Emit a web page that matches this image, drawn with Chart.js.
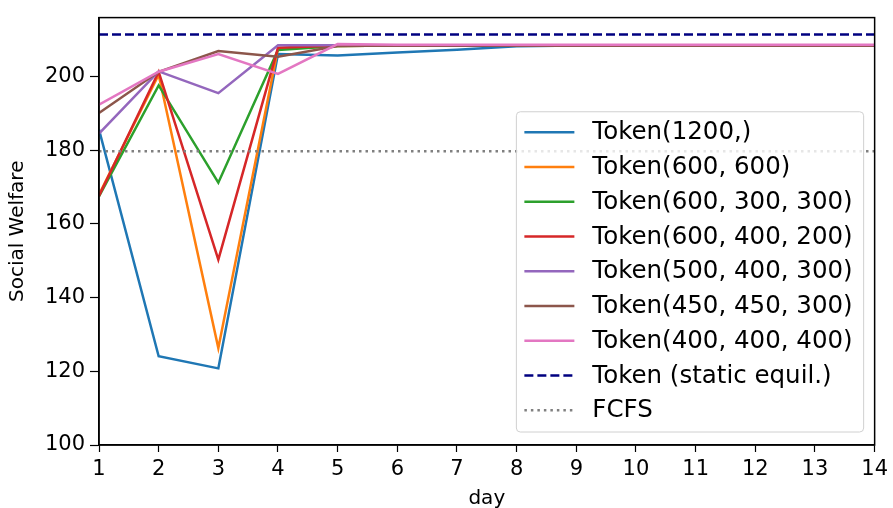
<!DOCTYPE HTML>
<html lang="en">
<head>
<meta charset="UTF-8">
<title>Social Welfare by day</title>
<script src="https://cdn.jsdelivr.net/npm/chart.js@4/dist/chart.umd.min.js"></script>
<style>
  html, body { margin: 0; padding: 0; background: #fff; }
  #wrap { width: 893px; height: 508px; }
</style>
</head>
<body>
<div id="wrap"><canvas id="canvas" width="893" height="508"></canvas></div>

<script>
// data
var days = [1, 2, 3, 4, 5, 6, 7, 8, 9, 10, 11, 12, 13, 14];

var token1200        = [185.6, 124.1, 120.8, 206.1, 205.7, 206.5, 207.3, 208.2, 208.4, 208.4, 208.4, 208.4, 208.4, 208.4];
var token600_600     = [168.0, 200.5, 126.3, 207.6, 208.3, 208.4, 208.4, 208.4, 208.4, 208.4, 208.4, 208.4, 208.4, 208.4];
var token600_300_300 = [167.5, 197.6, 171.2, 207.2, 208.3, 208.4, 208.4, 208.4, 208.4, 208.4, 208.4, 208.4, 208.4, 208.4];
var token600_400_200 = [167.6, 201.3, 150.3, 207.8, 208.4, 208.4, 208.4, 208.4, 208.4, 208.4, 208.4, 208.4, 208.4, 208.4];
var token500_400_300 = [184.5, 201.4, 195.5, 208.5, 208.5, 208.5, 208.5, 208.5, 208.5, 208.5, 208.5, 208.5, 208.5, 208.5];
var token450_450_300 = [190.1, 201.3, 206.9, 205.4, 208.3, 208.4, 208.4, 208.4, 208.4, 208.4, 208.4, 208.4, 208.4, 208.4];
var token400_400_400 = [192.4, 201.3, 206.1, 200.7, 208.8, 208.6, 208.6, 208.6, 208.6, 208.6, 208.6, 208.6, 208.6, 208.6];

var staticEquil = 211.4;  // Token (static equil.)
var fcfs = 179.7;         // FCFS

var seriesLabels = [
  'Token(1200,)', 'Token(600, 600)', 'Token(600, 300, 300)', 'Token(600, 400, 200)',
  'Token(500, 400, 300)', 'Token(450, 450, 300)', 'Token(400, 400, 400)'
];
var seriesValues = [token1200, token600_600, token600_300_300, token600_400_200,
                    token500_400_300, token450_450_300, token400_400_400];
var seriesColors = ['#1f77b4', '#ff7f0e', '#2ca02c', '#d62728', '#9467bd', '#8c564b', '#e377c2'];

var yTicks = [100, 120, 140, 160, 180, 200];
var xTicks = days;

var FONT = '"DejaVu Sans", sans-serif';

function toPoints(vals) {
  return vals.map(function(v, i) { return {x: days[i], y: v}; });
}

var datasets = seriesValues.map(function(vals, i) {
  return {
    label: seriesLabels[i],
    data: toPoints(vals),
    borderColor: seriesColors[i],
    backgroundColor: seriesColors[i],
    borderWidth: 2.5,
    pointRadius: 0,
    tension: 0,
    order: -i   // later series on top, like the original
  };
});

datasets.push({
  label: 'Token (static equil.)',
  data: [{x: days[0], y: staticEquil}, {x: days[days.length - 1], y: staticEquil}],
  borderColor: '#000080',
  borderWidth: 2.5,
  borderDash: [9, 4],
  pointRadius: 0,
  order: -10
});
datasets.push({
  label: 'FCFS',
  data: [{x: days[0], y: fcfs}, {x: days[days.length - 1], y: fcfs}],
  borderColor: '#808080',
  borderWidth: 2.5,
  borderDash: [2.5, 4],
  pointRadius: 0,
  order: -11
});

// frame round the plot area
var frame = {
  id: 'frame',
  afterDraw: function(chart) {
    var ctx = chart.ctx, a = chart.chartArea;
    ctx.save();
    ctx.strokeStyle = '#000';
    ctx.lineWidth = 1.5;
    ctx.strokeRect(a.left, a.top, a.right - a.left, a.bottom - a.top);
    ctx.restore();
  }
};

// legend box inside the plot (lower right)
var legendBox = {
  id: 'legendBox',
  afterDraw: function(chart) {
    var ctx = chart.ctx, a = chart.chartArea;
    var ds = chart.data.datasets;
    var rowH = 34.75, padTop = 3, padBottom = 4.5;
    ctx.save();
    ctx.font = '24.5px ' + FONT;
    var maxW = 0;
    ds.forEach(function(d) { maxW = Math.max(maxW, ctx.measureText(d.label).width); });
    var w = 76 + maxW + 11;
    var h = padTop + rowH * ds.length + padBottom;
    var right = a.right - 11, bottom = a.bottom - 13;
    var left = right - w, top = bottom - h;

    ctx.beginPath();
    ctx.roundRect(left, top, w, h, 4);
    ctx.fillStyle = 'rgba(255,255,255,0.8)';
    ctx.fill();
    ctx.strokeStyle = '#d0d0d0';
    ctx.lineWidth = 1;
    ctx.stroke();

    ds.forEach(function(d, i) {
      var y = top + padTop + rowH * (i + 0.5);
      ctx.beginPath();
      ctx.setLineDash(d.borderDash || []);
      ctx.strokeStyle = d.borderColor;
      ctx.lineWidth = d.borderWidth;
      ctx.moveTo(left + 8, y);
      ctx.lineTo(left + 58, y);
      ctx.stroke();
      ctx.setLineDash([]);
      ctx.fillStyle = '#000';
      ctx.textBaseline = 'middle';
      ctx.textAlign = 'left';
      ctx.fillText(d.label, left + 76, y + 1);
    });
    ctx.restore();
  }
};

window.onload = function() {
  var ctx = document.getElementById('canvas').getContext('2d');
  window.myChart = new Chart(ctx, {
    type: 'line',
    data: { datasets: datasets },
    plugins: [frame, legendBox],
    options: {
      responsive: false,
      animation: false,
      layout: { padding: { left: 0, top: 15, right: 13, bottom: 0 } },
      plugins: {
        legend: { display: false },
        tooltip: { enabled: false }
      },
      scales: {
        x: {
          type: 'linear',
          min: 1,
          max: 14,
          afterBuildTicks: function(scale) {
            scale.ticks = xTicks.map(function(v) { return {value: v}; });
          },
          afterFit: function(scale) { scale.height = 63; },
          grid: { drawOnChartArea: false, drawTicks: true, tickLength: 7, color: '#000', tickWidth: 1.2 },
          border: { display: true, color: '#000', width: 1.5 },
          ticks: { color: '#000', font: { family: FONT, size: 21 }, padding: 5, maxRotation: 0 },
          title: { display: true, text: 'day', color: '#000', font: { family: FONT, size: 20 }, padding: { top: 0, bottom: -3 } }
        },
        y: {
          min: 100,
          max: 216,
          afterBuildTicks: function(scale) {
            scale.ticks = yTicks.map(function(v) { return {value: v}; });
          },
          afterFit: function(scale) { scale.width = 99; },
          grid: { drawOnChartArea: false, drawTicks: true, tickLength: 9, color: '#000', tickWidth: 1.2 },
          border: { display: true, color: '#000', width: 1.5 },
          ticks: { color: '#000', font: { family: FONT, size: 21 }, padding: 5 },
          title: { display: true, text: 'Social Welfare', color: '#000', font: { family: FONT, size: 20 }, padding: 6 }
        }
      }
    }
  });
};
</script>
</body>
</html>
